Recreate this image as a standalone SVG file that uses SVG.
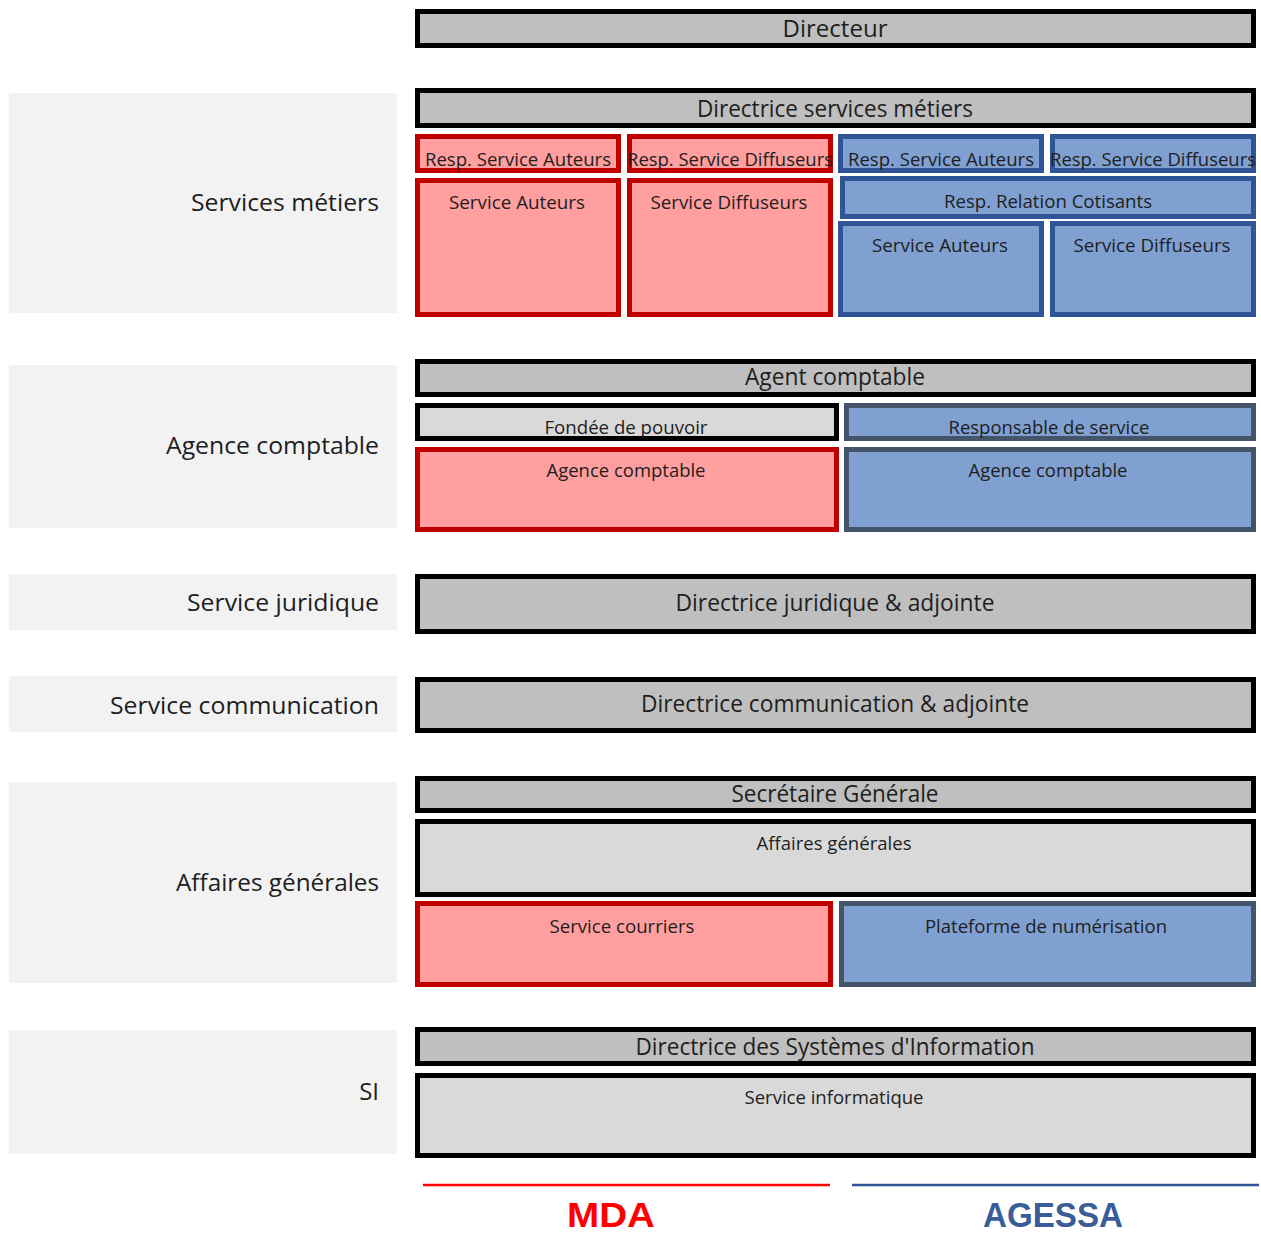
<svg xmlns="http://www.w3.org/2000/svg" width="1261" height="1236" viewBox="0 0 1261 1236">
<style>
text{font-family:"Open Sans","Liberation Sans",sans-serif;fill:#1e1e1e;text-anchor:middle}
.panel{fill:#f2f2f2}
.lbl{font-size:24px;text-anchor:end}
.big{font-size:23px}
.sm{font-size:18.5px}
.head{fill:#bfbfbf;stroke:#000;stroke-width:5}
.lg{fill:#d9d9d9;stroke:#000;stroke-width:5}
.red{fill:#ff9f9f;stroke:#c00000;stroke-width:5}
.blue{fill:#7fa0d1;stroke:#2f5597;stroke-width:5}
.slate{fill:#7fa0d1;stroke:#44546a;stroke-width:5}
</style>
<rect width="1261" height="1236" fill="#fff"/>
<g id="panels">
<rect class="panel" x="9" y="93" width="388" height="220"/>
<text class="lbl" x="379" y="211" textLength="188" lengthAdjust="spacingAndGlyphs">Services métiers</text>
<rect class="panel" x="9" y="365" width="388" height="163"/>
<text class="lbl" x="379" y="454" textLength="213" lengthAdjust="spacingAndGlyphs">Agence comptable</text>
<rect class="panel" x="9" y="574" width="388" height="56"/>
<text class="lbl" x="379" y="611" textLength="192" lengthAdjust="spacingAndGlyphs">Service juridique</text>
<rect class="panel" x="9" y="676" width="388" height="56"/>
<text class="lbl" x="379" y="714" textLength="269" lengthAdjust="spacingAndGlyphs">Service communication</text>
<rect class="panel" x="9" y="782" width="388" height="201"/>
<text class="lbl" x="379" y="891" textLength="203" lengthAdjust="spacingAndGlyphs">Affaires générales</text>
<rect class="panel" x="9" y="1030" width="388" height="124"/>
<text class="lbl" x="379" y="1100">SI</text>
</g>
<g id="directeur"><rect class="head" x="417.5" y="11.5" width="836" height="34"/><text class="big" x="835" y="37" textLength="105" lengthAdjust="spacingAndGlyphs">Directeur</text></g>
<g id="dir-services-metiers"><rect class="head" x="417.5" y="90.5" width="836" height="35"/><text class="big" x="835" y="117" textLength="276" lengthAdjust="spacingAndGlyphs">Directrice services métiers</text></g>
<g id="mda-resp-auteurs"><rect class="red" x="417.5" y="136.5" width="201" height="34"/><text class="sm" x="518" y="166" textLength="186" lengthAdjust="spacingAndGlyphs">Resp. Service Auteurs</text></g>
<g id="mda-resp-diffuseurs"><rect class="red" x="629.5" y="136.5" width="201" height="34"/><text class="sm" x="730" y="166" textLength="206" lengthAdjust="spacingAndGlyphs">Resp. Service Diffuseurs</text></g>
<g id="agessa-resp-auteurs"><rect class="blue" x="840.5" y="136.5" width="201" height="34"/><text class="sm" x="941" y="166" textLength="186" lengthAdjust="spacingAndGlyphs">Resp. Service Auteurs</text></g>
<g id="agessa-resp-diffuseurs"><rect class="blue" x="1052.5" y="136.5" width="201" height="34"/><text class="sm" x="1153" y="166" textLength="206" lengthAdjust="spacingAndGlyphs">Resp. Service Diffuseurs</text></g>
<g id="mda-service-auteurs"><rect class="red" x="417.5" y="180.5" width="201" height="134"/><text class="sm" x="517" y="209" textLength="136" lengthAdjust="spacingAndGlyphs">Service Auteurs</text></g>
<g id="mda-service-diffuseurs"><rect class="red" x="629.5" y="180.5" width="201" height="134"/><text class="sm" x="729" y="209" textLength="157" lengthAdjust="spacingAndGlyphs">Service Diffuseurs</text></g>
<g id="agessa-resp-relation"><rect class="blue" x="842.5" y="178.5" width="411" height="38"/><text class="sm" x="1048" y="208" textLength="208" lengthAdjust="spacingAndGlyphs">Resp. Relation Cotisants</text></g>
<g id="agessa-service-auteurs"><rect class="blue" x="840.5" y="223.5" width="201" height="91"/><text class="sm" x="940" y="252" textLength="136" lengthAdjust="spacingAndGlyphs">Service Auteurs</text></g>
<g id="agessa-service-diffuseurs"><rect class="blue" x="1052.5" y="223.5" width="201" height="91"/><text class="sm" x="1152" y="252" textLength="157" lengthAdjust="spacingAndGlyphs">Service Diffuseurs</text></g>
<g id="agent-comptable"><rect class="head" x="417.5" y="361.5" width="836" height="33"/><text class="big" x="835" y="385" textLength="180" lengthAdjust="spacingAndGlyphs">Agent comptable</text></g>
<g id="fondee-pouvoir"><rect class="lg" x="417.5" y="405.5" width="419" height="33"/><text class="sm" x="626" y="434" textLength="163" lengthAdjust="spacingAndGlyphs">Fondée de pouvoir</text></g>
<g id="responsable-service"><rect class="slate" x="846.5" y="405.5" width="407" height="33"/><text class="sm" x="1049" y="434" textLength="201" lengthAdjust="spacingAndGlyphs">Responsable de service</text></g>
<g id="mda-agence-comptable"><rect class="red" x="417.5" y="449.5" width="419" height="80"/><text class="sm" x="626" y="477" textLength="159" lengthAdjust="spacingAndGlyphs">Agence comptable</text></g>
<g id="agessa-agence-comptable"><rect class="slate" x="846.5" y="449.5" width="407" height="80"/><text class="sm" x="1048" y="477" textLength="159" lengthAdjust="spacingAndGlyphs">Agence comptable</text></g>
<g id="dir-juridique"><rect class="head" x="417.5" y="576.5" width="836" height="55"/><text class="big" x="835" y="611" textLength="319" lengthAdjust="spacingAndGlyphs">Directrice juridique &amp; adjointe</text></g>
<g id="dir-communication"><rect class="head" x="417.5" y="679.5" width="836" height="51"/><text class="big" x="835" y="712" textLength="388" lengthAdjust="spacingAndGlyphs">Directrice communication &amp; adjointe</text></g>
<g id="secretaire-generale"><rect class="head" x="417.5" y="778.5" width="836" height="32"/><text class="big" x="835" y="802" textLength="207" lengthAdjust="spacingAndGlyphs">Secrétaire Générale</text></g>
<g id="affaires-generales"><rect class="lg" x="417.5" y="821.5" width="836" height="73"/><text class="sm" x="834" y="850" textLength="155" lengthAdjust="spacingAndGlyphs">Affaires générales</text></g>
<g id="service-courriers"><rect class="red" x="417.5" y="903.5" width="413" height="81"/><text class="sm" x="622" y="933" textLength="145" lengthAdjust="spacingAndGlyphs">Service courriers</text></g>
<g id="plateforme-numerisation"><rect class="slate" x="841.5" y="903.5" width="412" height="81"/><text class="sm" x="1046" y="933" textLength="242" lengthAdjust="spacingAndGlyphs">Plateforme de numérisation</text></g>
<g id="dir-si"><rect class="head" x="417.5" y="1029.5" width="836" height="34"/><text class="big" x="835" y="1055" textLength="399" lengthAdjust="spacingAndGlyphs">Directrice des Systèmes d'Information</text></g>
<g id="service-informatique"><rect class="lg" x="417.5" y="1075.5" width="836" height="80"/><text class="sm" x="834" y="1104" textLength="179" lengthAdjust="spacingAndGlyphs">Service informatique</text></g>
<g id="connectors"></g>
<g id="legend">
<line x1="423" y1="1185" x2="830" y2="1185" stroke="#ff0000" stroke-width="2.5"/>
<line x1="852" y1="1185" x2="1259" y2="1185" stroke="#2f5597" stroke-width="2.5"/>
<text x="611" y="1227" style="font-family:'Liberation Sans',sans-serif;font-weight:bold;font-size:35px;fill:#ff0000" textLength="88" lengthAdjust="spacingAndGlyphs">MDA</text>
<text x="1053" y="1227" style="font-family:'Liberation Sans',sans-serif;font-weight:bold;font-size:35px;fill:#3a5d99" textLength="140" lengthAdjust="spacingAndGlyphs">AGESSA</text>
</g>
</svg>
